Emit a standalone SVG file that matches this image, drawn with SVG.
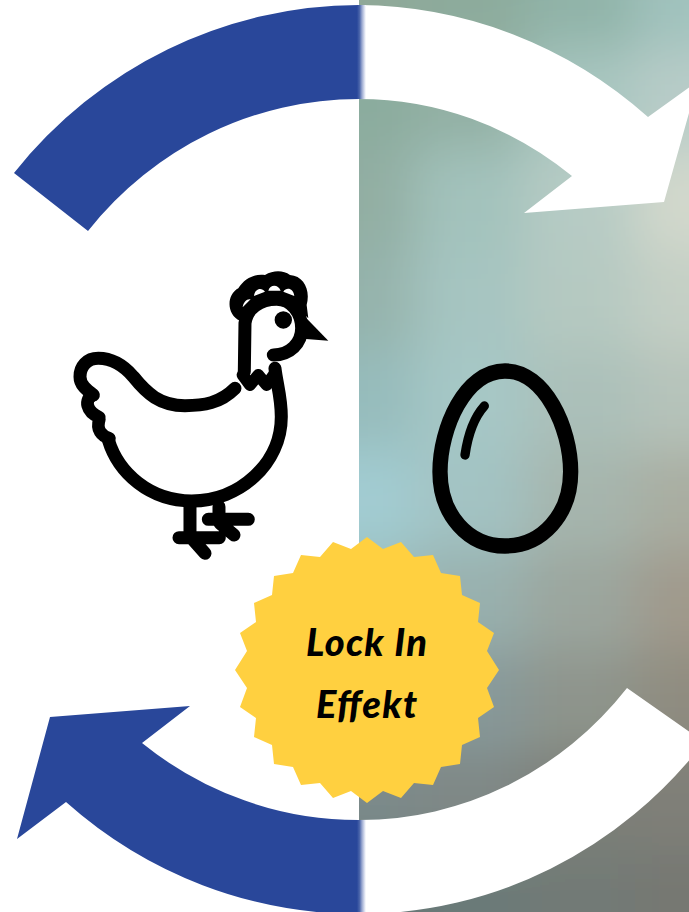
<svg xmlns="http://www.w3.org/2000/svg" width="689" height="912" viewBox="0 0 689 912">
<style>
.ink{fill:none;stroke:#000;stroke-linecap:round;stroke-linejoin:round}
.blue{fill:#29479a}
.white{fill:#fff}
.lbl{font-family:"Lato","Liberation Sans",sans-serif;font-weight:900;font-style:italic;font-size:38px;fill:#000;text-anchor:middle}
</style>
<defs>
<clipPath id="rightHalf"><rect x="359" y="0" width="330" height="912"/></clipPath>
<filter id="soft" filterUnits="userSpaceOnUse" x="200" y="-200" width="700" height="1300"><feGaussianBlur stdDeviation="26"/></filter>
<linearGradient id="fade"><stop offset="0" stop-color="#29479a"/><stop offset=".3" stop-color="#4f69ac"/><stop offset=".55" stop-color="#9aa8d0"/><stop offset=".85" stop-color="#dfe4f2"/><stop offset="1" stop-color="#fff"/></linearGradient>
</defs>
<rect width="689" height="912" fill="#fff"/>
<g id="background" clip-path="url(#rightHalf)">
<g filter="url(#soft)">
<rect x="259" y="-100" width="156" height="150" fill="#8fa898"/><rect x="415" y="-100" width="110" height="150" fill="#8dab9c"/><rect x="525" y="-100" width="110" height="150" fill="#90b3a8"/><rect x="635" y="-100" width="154" height="150" fill="#a0c2bd"/>
<rect x="259" y="50" width="156" height="100" fill="#8bac9e"/><rect x="415" y="50" width="110" height="100" fill="#93b0a4"/><rect x="525" y="50" width="110" height="100" fill="#a8c6c0"/><rect x="635" y="50" width="154" height="100" fill="#b8ccc8"/>
<rect x="259" y="150" width="156" height="100" fill="#92aea3"/><rect x="415" y="150" width="110" height="100" fill="#a3c2bc"/><rect x="525" y="150" width="110" height="100" fill="#b6cbc4"/><rect x="635" y="150" width="154" height="100" fill="#d2d8cc"/>
<rect x="259" y="250" width="156" height="100" fill="#95b3ac"/><rect x="415" y="250" width="110" height="100" fill="#a6c5c1"/><rect x="525" y="250" width="110" height="100" fill="#b5c9c1"/><rect x="635" y="250" width="154" height="100" fill="#c4cfc5"/>
<rect x="259" y="350" width="156" height="100" fill="#96bcbc"/><rect x="415" y="350" width="110" height="100" fill="#a6c7c6"/><rect x="525" y="350" width="110" height="100" fill="#abc0b9"/><rect x="635" y="350" width="154" height="100" fill="#b6c3ba"/>
<rect x="259" y="450" width="156" height="100" fill="#a2ccd2"/><rect x="415" y="450" width="110" height="100" fill="#a3c3c3"/><rect x="525" y="450" width="110" height="100" fill="#a6b5ad"/><rect x="635" y="450" width="154" height="100" fill="#a9ada1"/>
<rect x="259" y="550" width="156" height="100" fill="#99bcbc"/><rect x="415" y="550" width="110" height="100" fill="#98b0ae"/><rect x="525" y="550" width="110" height="100" fill="#9ba69e"/><rect x="635" y="550" width="154" height="100" fill="#a09a8c"/>
<rect x="259" y="650" width="156" height="100" fill="#84999b"/><rect x="415" y="650" width="110" height="100" fill="#87999a"/><rect x="525" y="650" width="110" height="100" fill="#8e948c"/><rect x="635" y="650" width="154" height="100" fill="#8f8c80"/>
<rect x="259" y="750" width="156" height="100" fill="#7b8a8a"/><rect x="415" y="750" width="110" height="100" fill="#7f8886"/><rect x="525" y="750" width="110" height="100" fill="#7d7f78"/><rect x="635" y="750" width="154" height="100" fill="#7f7f78"/>
<rect x="259" y="850" width="156" height="200" fill="#667676"/><rect x="415" y="850" width="110" height="200" fill="#6a7a78"/><rect x="525" y="850" width="110" height="200" fill="#727a76"/><rect x="635" y="850" width="154" height="200" fill="#767872"/>
</g>
</g>
<g id="connectors">
<path id="arrow-top-left" class="blue" d="M359,5 A445,454.5 0 0 0 14,173 L88,231 A350,360.5 0 0 1 359,99 Z"/>
<path id="arrow-top-right" class="white" d="M359,5 A444,454.5 0 0 1 648,117 L698,81 L664,202 L524,213 L572,176 A345,360.5 0 0 0 359,99 Z"/>
<path id="arrow-bottom-left" class="blue" d="M359,820 A350,360.5 0 0 1 142,743 L190,706 L50,717 L17,839 L66,802 A445,454.5 0 0 0 359,914 Z"/>
<path id="arrow-bottom-right" class="white" d="M359,820 A345,360.5 0 0 0 627,688 L704,742 A440,454.5 0 0 1 359,914 Z"/>
<rect x="357" y="5" width="9" height="94" fill="url(#fade)"/>
<rect x="357" y="820" width="9" height="92" fill="url(#fade)"/>
</g>
<g id="chicken" transform="translate(60 260) scale(.3333)">
<path class="ink" stroke-width="39" d="M645,325 C650,370 664,410 664,470 C664,610 540,723 395,723 C270,723 175,640 145,540"/>
<path class="ink" stroke-width="39" d="M525,385 C480,430 430,437 375,437 C300,437 260,400 220,350 C185,310 150,295 115,295 C80,295 60,320 60,350 C60,375 80,390 100,405"/>
<path class="ink" stroke-width="38" d="M98,405 C72,418 78,455 118,472 M118,478 C108,510 125,528 148,535"/>
<path class="ink" stroke-width="39" d="M553,335 L555,190 C560,145 600,118 650,118 C695,118 725,160 725,205 C725,250 690,285 640,285"/>
<path class="ink" stroke-width="36" d="M548,345 L570,375 L595,345 L620,375 L645,340"/>
<path d="M735,170 L805,242 L728,236 Z" fill="#000"/>
<circle cx="670" cy="180" r="26" fill="#000"/>
<path d="M540,182 C500,165 498,105 535,85 C555,52 590,40 615,45 C640,30 670,30 690,45 C732,48 752,90 740,135 L745,175 L700,130 L640,115 L580,130 L555,175 Z" fill="#000"/>
<path d="M582,108 C585,85 605,82 615,95 Z M625,92 C630,72 655,72 662,92 Z M670,95 C680,80 700,85 703,108 Z M548,142 C550,125 562,115 572,118 Z" fill="#fff"/>
<path class="ink" stroke-width="39" d="M390,740 L390,830 M477,740 L477,775 M357,833 L478,833 M445,778 L565,778 M395,835 L435,880 M480,790 L522,825"/>
</g>
<g id="egg">
<g transform="translate(420 350) scale(.3333)">
<path class="ink" stroke-width="46" d="M255,63 C135,63 60,235 60,365 C60,495 145,588 255,588 C365,588 452,495 452,365 C452,235 375,63 255,63 Z"/>
<path class="ink" stroke-width="28" d="M193,168 C160,205 143,260 135,315"/>
</g>
</g>
<g id="badge">
<polygon fill="#ffd040" points="367,537 383,549 401,542 414,557 433,555 441,573 460,576 462,595 480,603 478,622 494,633 487,651 499,670 487,688 494,707 478,718 480,737 462,745 460,764 441,767 433,785 414,783 401,798 383,791 367,803 351,791 333,798 320,783 301,785 293,767 274,764 272,745 254,737 256,718 240,707 247,688 235,670 247,651 240,633 256,622 254,603 272,595 274,576 293,573 301,555 320,557 333,542 351,549"/>
<text class="lbl" x="366.500" y="656" textLength="121">Lock In</text>
<text class="lbl" x="366.500" y="718" textLength="101">Effekt</text>
</g>
</svg>
